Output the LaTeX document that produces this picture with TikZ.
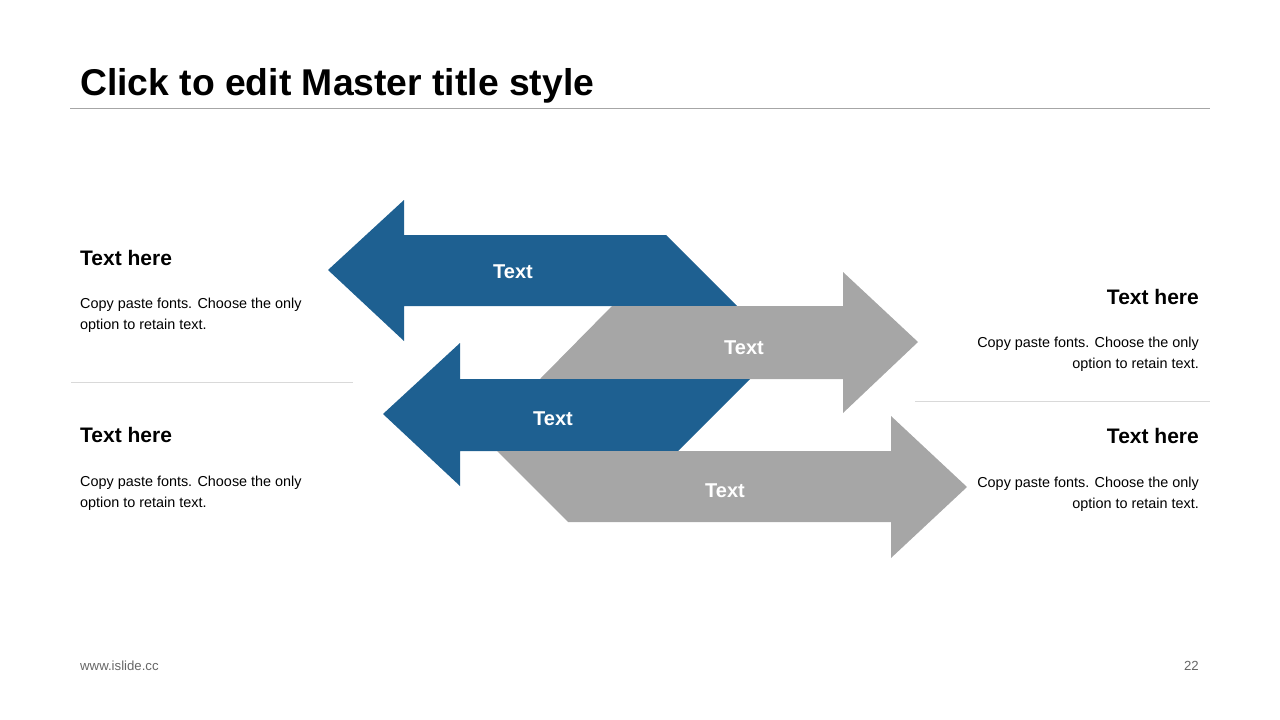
\documentclass[tikz,border=0pt]{standalone}
\usepackage{fontspec}
\setmainfont{Liberation Sans}
\definecolor{slideblue}{RGB}{30,96,145}
\definecolor{slidegray}{RGB}{166,166,166}
\definecolor{rulegray}{RGB}{217,217,217}
\tikzset{
  bluearrow/.style={fill=slideblue},
  grayarrow/.style={fill=slidegray},
  arrowlabel/.style={text=white, inner sep=0pt, font=\fontsize{20}{24}\selectfont\bfseries},
  heading/.style={inner sep=0pt, font=\fontsize{21}{25}\selectfont\bfseries},
  bodytext/.style={inner sep=0pt, font=\fontsize{14.4}{21}\selectfont},
  footer/.style={inner sep=0pt, text=black!60, font=\fontsize{13.2}{15}\selectfont},
  thinrule/.style={draw=rulegray, line width=0.8pt}
}
\begin{document}
\begin{tikzpicture}[x=1pt, y=-1pt]
    \useasboundingbox (0,0) rectangle (1280,720);
    % Title and rule below it
    \node[anchor=base west, inner sep=0pt, font=\fontsize{37.3}{40}\selectfont\bfseries] (title) at (80,95) {Click to edit Master title style};
    \coordinate (tl) at (70,108); \coordinate (tr) at (1210,108);
    \draw[draw=black!35, line width=0.8pt] (tl)--(tr);

    % Arrows (left, right, left, right)
    \fill[bluearrow] (328,270)--(404,200)--(404,235)--(666,235)--(737,306)--(404,306)--(404,341)--cycle;
    \fill[grayarrow] (918,342)--(843,272)--(843,306)--(612,306)--(540,379)--(843,379)--(843,413)--cycle;
    \fill[bluearrow] (383,414)--(460,343)--(460,379)--(750,379)--(678,451)--(460,451)--(460,486)--cycle;
    \fill[grayarrow] (967,487)--(891,416)--(891,451)--(497,451)--(568,522)--(891,522)--(891,558)--cycle;
    \node[arrowlabel] (a1) at (513,272) {Text};
    \node[arrowlabel] (a2) at (744,348) {Text};
    \node[arrowlabel] (a3) at (553,419) {Text};
    \node[arrowlabel] (a4) at (725,491) {Text};

    % Left blocks
    \node[heading, anchor=base west] (h1) at (80,265) {Text here};
    \node[bodytext, anchor=base west] (b1a) at (80,308) {Copy paste fonts. Choose the only};
    \node[bodytext, anchor=base west] (b1b) at (80,329) {option to retain text.};
    \coordinate (l1) at (71,382); \coordinate (l2) at (353,382);
    \draw[thinrule] (l1)--(l2);
    \node[heading, anchor=base west] (h2) at (80,442) {Text here};
    \node[bodytext, anchor=base west] (b2a) at (80,486) {Copy paste fonts. Choose the only};
    \node[bodytext, anchor=base west] (b2b) at (80,507) {option to retain text.};

    % Right blocks
    \node[heading, anchor=base east] (h3) at (1199,304) {Text here};
    \node[bodytext, anchor=base east] (b3a) at (1199,347) {Copy paste fonts. Choose the only};
    \node[bodytext, anchor=base east] (b3b) at (1199,368) {option to retain text.};
    \coordinate (r1) at (915,401); \coordinate (r2) at (1210,401);
    \draw[thinrule] (r1)--(r2);
    \node[heading, anchor=base east] (h4) at (1199,443) {Text here};
    \node[bodytext, anchor=base east] (b4a) at (1199,487) {Copy paste fonts. Choose the only};
    \node[bodytext, anchor=base east] (b4b) at (1199,508) {option to retain text.};

    % Footer
    \node[footer, anchor=base west] (url) at (80,670) {www.islide.cc};
    \node[footer, anchor=base east] (page) at (1199,670) {22};
\end{tikzpicture}
\end{document}
